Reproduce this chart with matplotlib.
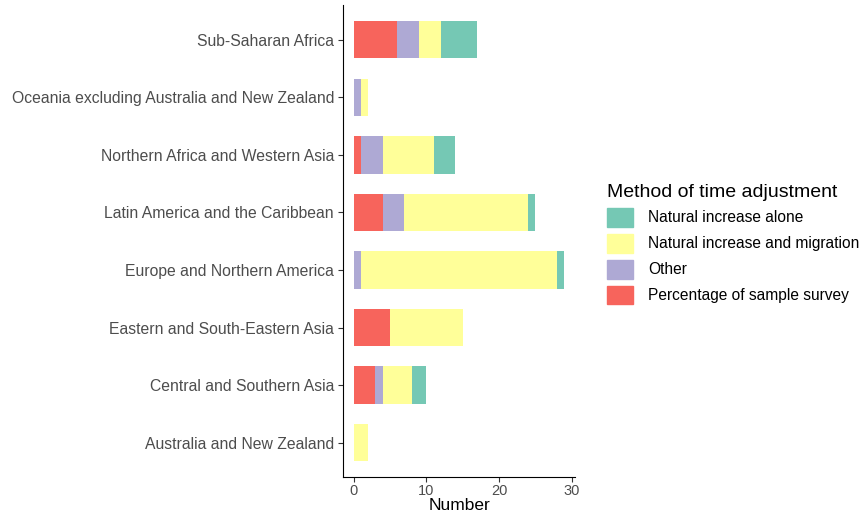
import matplotlib.pyplot as plt
import numpy as np
from matplotlib.patches import Patch

plt.rcParams['font.family'] = ['Liberation Sans', 'DejaVu Sans']

regions = ['Australia and New Zealand', 'Central and Southern Asia',
           'Eastern and South-Eastern Asia', 'Europe and Northern America',
           'Latin America and the Caribbean', 'Northern Africa and Western Asia',
           'Oceania excluding Australia and New Zealand', 'Sub-Saharan Africa']

# stacked from the left: survey, other, natural+migration, natural alone
pct_survey = [0, 3, 5, 0, 4, 1, 0, 6]
other = [0, 1, 0, 1, 3, 3, 1, 3]
nat_migration = [2, 4, 10, 27, 17, 7, 1, 3]
nat_alone = [0, 2, 0, 1, 1, 3, 0, 5]

methods = ['Percentage of sample survey', 'Other',
           'Natural increase and migration', 'Natural increase alone']
colors = ['#F7645C', '#AEA9D4', '#FFFF99', '#75C8B4']

fig = plt.figure(figsize=(8.62, 5.17), dpi=100)
ax = fig.add_axes([0.398, 0.077, 0.269, 0.913])

y = np.arange(len(regions))
left = np.zeros(len(regions))
for vals, c, lab in zip([pct_survey, other, nat_migration, nat_alone], colors, methods):
    ax.barh(y, vals, left=left, height=0.65, color=c, label=lab)
    left += np.array(vals)

ax.set_xlim(-1.45, 30.45)
ax.set_ylim(-0.6, len(regions) - 0.4)
ax.set_yticks(y)
ax.set_yticklabels(regions)
ax.set_xticks([0, 10, 20, 30])
ax.tick_params(axis='both', labelsize=11.3, labelcolor='#4D4D4D', color='#333333',
               length=3.5, pad=3)
ax.tick_params(axis='x', labelsize=10.5, pad=1.5)
for s in ['top', 'right']:
    ax.spines[s].set_visible(False)
for s in ['left', 'bottom']:
    ax.spines[s].set_color('black')
ax.set_xlabel('Number', fontsize=12.5, labelpad=0)

handles = [Patch(color=c) for c in colors][::-1]
labels = methods[::-1]
fig.legend(handles, labels, title='Method of time adjustment',
           loc='upper left', bbox_to_anchor=(0.688, 0.672), frameon=False,
           fontsize=11.2, title_fontsize=14, handlelength=1.65, handleheight=1.5,
           labelspacing=0.45, handletextpad=1.0, alignment='left')

plt.savefig('out.png', dpi=100)
